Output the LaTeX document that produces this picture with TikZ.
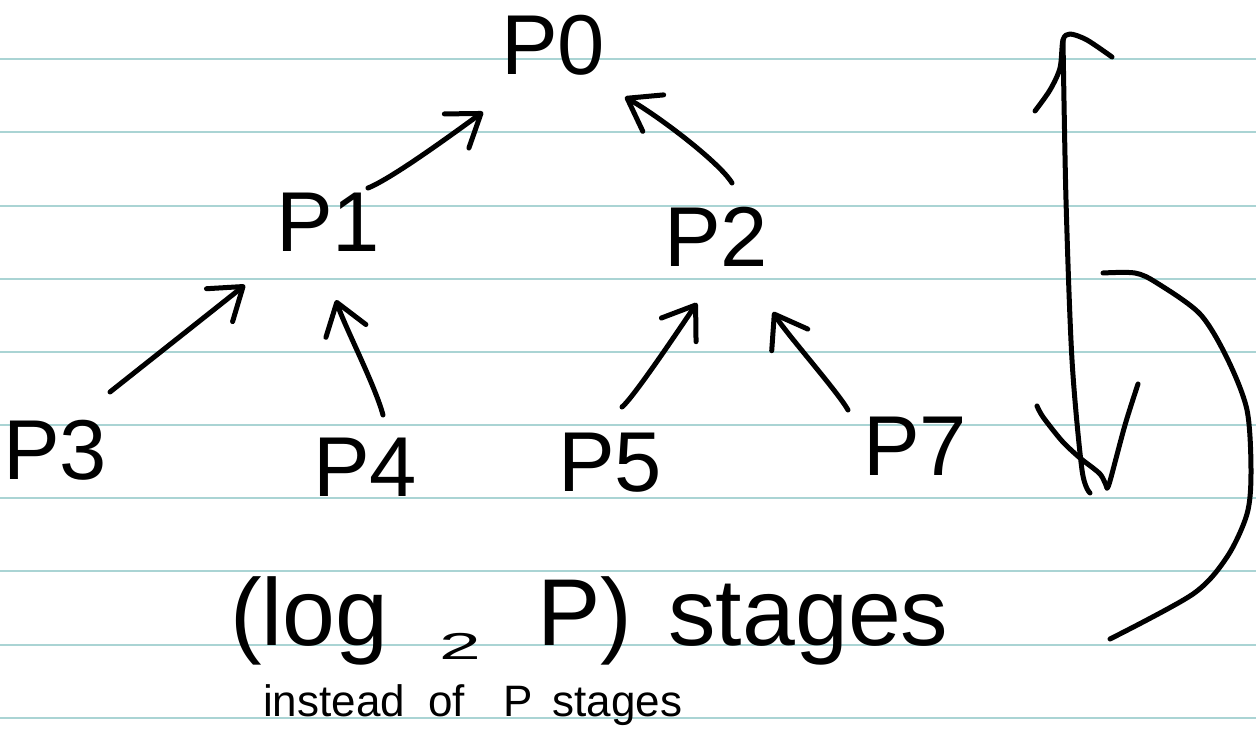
\documentclass[tikz,border=0pt]{standalone}
\usepackage{fontspec}
\setmainfont{Liberation Sans}
\usetikzlibrary{arrows.meta,calc}
\definecolor{ruled}{RGB}{170,212,212}
\begin{document}
\begin{tikzpicture}[x=1pt,y=-1pt,
  lbl/.style={inner sep=0pt, font=\fontsize{85}{85}\selectfont},
  ink/.style={line width=5pt, line cap=round, line join=round},
  arr/.style={ink, -{Straight Barb[length=30pt,width=42pt,round]}},
  ruleline/.style={draw=ruled, line width=2pt}]
\fill[white] (0,0) rectangle (1256,738);
\useasboundingbox (0,0) rectangle (1256,738);
\foreach \k in {0,...,9} \draw[ruleline] (0,59.3+73.16*\k) -- (1256,59.3+73.16*\k);

% nodes
\node[lbl] (P0) at (553,45)  {P0};
\node[lbl] (P1) at (328,222) {P1};
\node[lbl] (P2) at (716,237) {P2};
\node[lbl] (P3) at (55,450)  {P3};
\node[lbl] (P4) at (365,467) {P4};
\node[lbl] (P5) at (610,463) {P5};
\node[lbl] (P7) at (915,446) {P7};

% connectors
\draw[arr] ($(P1)+(40,-34)$) .. controls +(25,-10) and +(-25,18) .. ($(P0)+(-70,67)$);
\draw[arr] ($(P2)+(16,-54)$) .. controls +(-12,-20) and +(35,20) .. ($(P0)+(72,52)$);
\draw[arr] ($(P3)+(55,-58)$) -- ($(P1)+(-83,63)$);
\draw[arr] ($(P4)+(18,-52)$) .. controls +(-8,-30) and +(8,25) .. ($(P1)+(8,78)$);
\draw[arr] ($(P5)+(12,-56)$) .. controls +(12,-10) and +(-15,22) .. ($(P2)+(-19,66)$);
\draw[arr] ($(P7)+(-67,-36)$) .. controls +(-10,-18) and +(12,20) .. ($(P2)+(57,75)$);

% big vertical double arrow
\draw[ink] plot[smooth] coordinates {(1063,40) (1066,200) (1072,360) (1082,470) (1090,493)};
\draw[ink] plot[smooth] coordinates {(1035,111) (1050,90) (1060,68) (1063,40) (1070,34) (1087,40) (1112,57)};
\draw[ink] plot[smooth] coordinates {(1037,406) (1043,417) (1062,441) (1080,458) (1100,474) (1107,488)};
\draw[ink] plot[smooth] coordinates {(1107,488) (1110,481) (1125,425) (1138,384)};
% curved bracket
\draw[ink] plot[smooth] coordinates {(1103,273) (1135,273) (1157,283) (1200,314) (1227,358) (1247,410) (1251,472) (1247,514) (1227,557) (1193,594) (1110,639)};

% texts
\node[inner sep=0pt, anchor=base west, font=\fontsize{95}{95}\selectfont] (T) at (230,645)
  {(log\hspace{24pt} \raisebox{-14pt}{\scalebox{1.5}[0.75]{\fontsize{50}{50}\selectfont 2}}\hspace{30pt} P)\hspace{10pt} stages};
\node[inner sep=0pt, anchor=base west, font=\fontsize{44}{44}\selectfont] (S) at (263,716)
  {instead\hspace{11pt} of\hspace{26pt} P\hspace{8pt} stages};
\end{tikzpicture}
\end{document}
